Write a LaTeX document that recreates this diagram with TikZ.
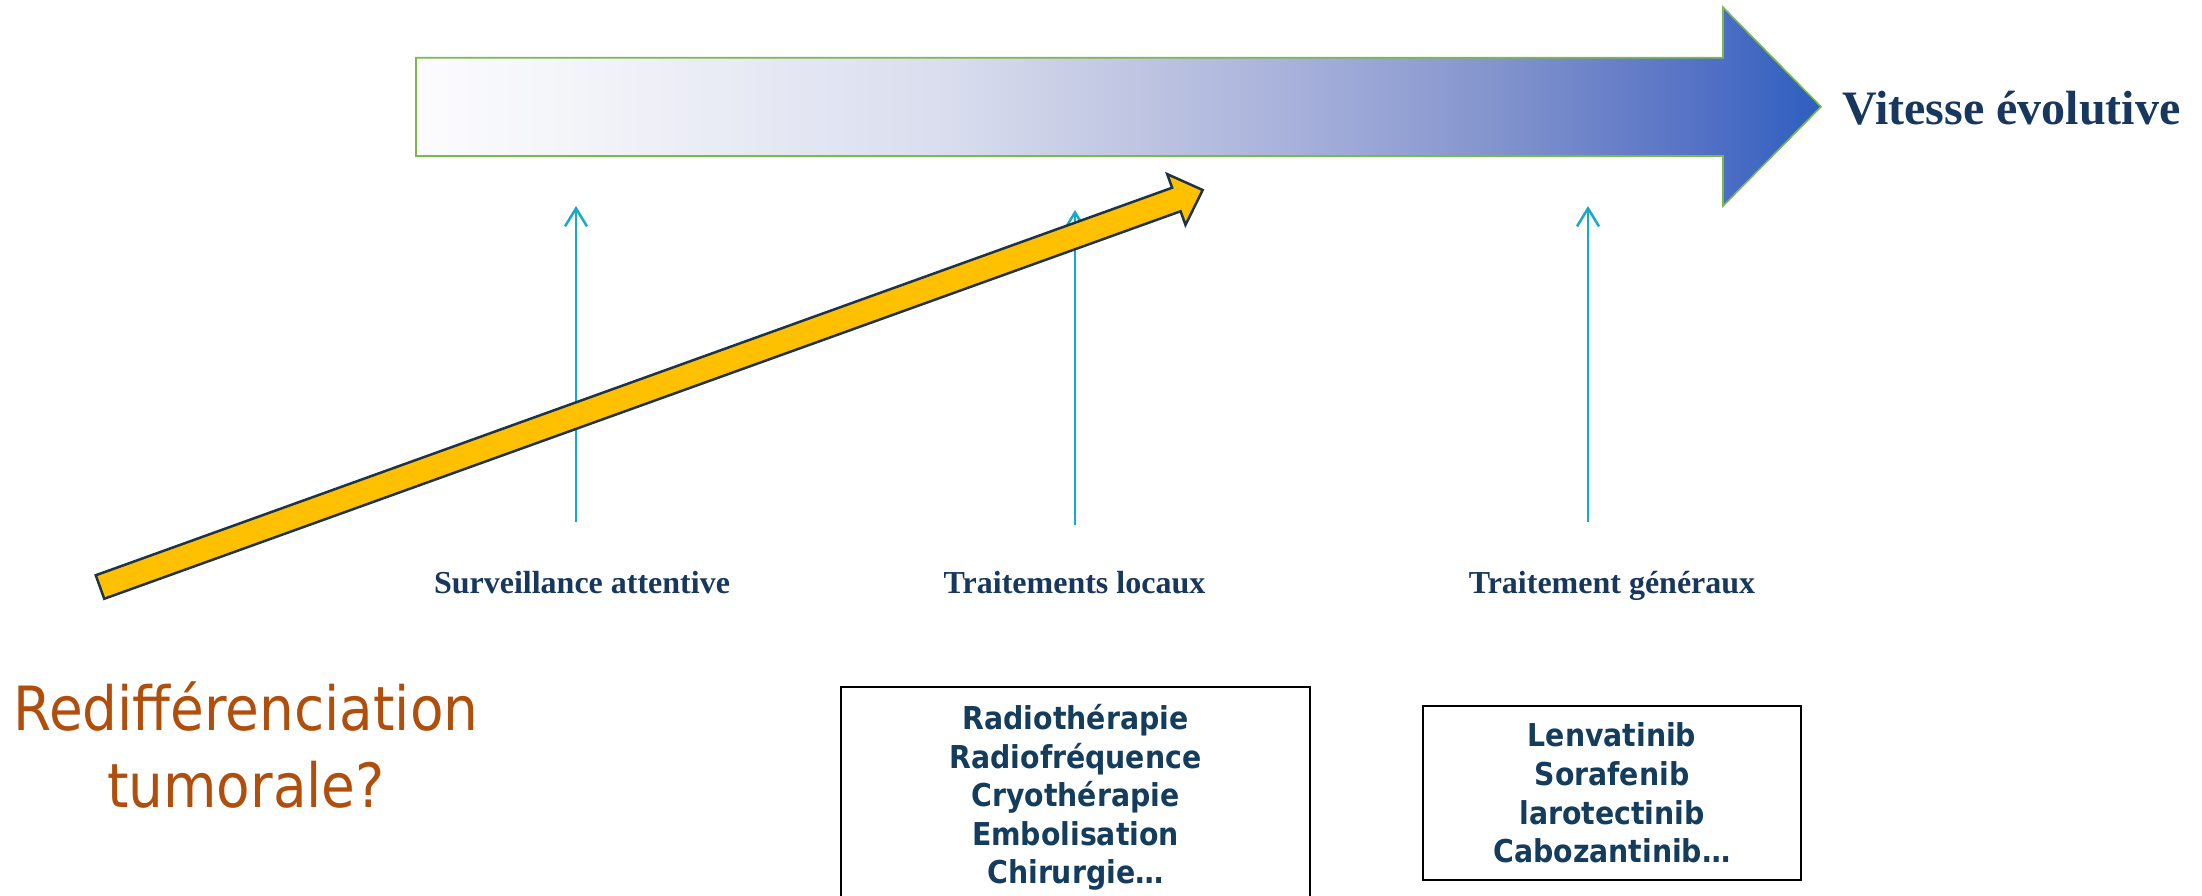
\documentclass[tikz,border=0pt]{standalone}
\usepackage{fontspec}
\setmainfont{Liberation Serif}
\newfontfamily\listfont{DejaVu Sans Condensed}
\newfontfamily\condfont{DejaVu Sans Condensed}
\usetikzlibrary{arrows.meta}

\definecolor{navy}{HTML}{17375E}
\definecolor{listnavy}{HTML}{143C5C}
\definecolor{rust}{HTML}{B04E0C}
\definecolor{teal}{HTML}{17A9C6}
\definecolor{gold}{HTML}{FFC000}
\definecolor{goldedge}{HTML}{1F3347}
\definecolor{leaf}{HTML}{7DB84A}

% speed gradient: the path's bounding box spans 25bp..75bp
\definecolor{sp0}{HTML}{FCFCFE}
\definecolor{sp1}{HTML}{F3F4F9}
\definecolor{sp2}{HTML}{D9DDEE}
\definecolor{sp3}{HTML}{C0C6E2}
\definecolor{sp4}{HTML}{A4AEDA}
\definecolor{sp5}{HTML}{8394CD}
\definecolor{sp6}{HTML}{5A75C6}
\definecolor{sp7}{HTML}{2E5EC0}
\pgfdeclarehorizontalshading{speed}{100bp}{%
  color(0bp)=(sp0); color(25bp)=(sp0); color(30.9bp)=(sp1);
  color(43.9bp)=(sp2); color(50.4bp)=(sp3); color(56.9bp)=(sp4);
  color(63.35bp)=(sp5); color(69.9bp)=(sp6); color(75bp)=(sp7);
  color(100bp)=(sp7)}

\tikzset{
  stagelabel/.style={font=\bfseries\fontsize{32}{38}\selectfont, text=navy, inner sep=0pt, anchor=base},
  listbox/.style={draw=black, line width=2pt, align=center, inner sep=0pt,
    text=listnavy, font=\listfont\bfseries\fontsize{31.5}{38.6}\selectfont},
  uparrow/.style={draw=teal, line width=2.5pt, -{Straight Barb[length=18pt,width=22pt,line width=2.5pt]}},
}

\begin{document}
\begin{tikzpicture}[x=1pt,y=-1pt]
\useasboundingbox (0,0) rectangle (2202,895);

% broad arrow: speed of progression
\path[draw=leaf, line width=1.6pt, shading=speed]
  (416,57.7) -- (1723,57.7) -- (1723,7.3) -- (1821,106.7)
  -- (1723,206) -- (1723,156) -- (416,156) -- cycle;
\node[font=\bfseries\fontsize{48}{56}\selectfont, text=navy, inner sep=0pt, anchor=base west]
  (vitesse) at (1842,124) {Vitesse évolutive};

% stage labels
\node[stagelabel] (surv) at (582,593) {Surveillance attentive};
\node[stagelabel] (locaux) at (1074.5,593) {Traitements locaux};
\node[stagelabel] (generaux) at (1612,593) {Traitement généraux};

% upward arrows above the stage labels
\coordinate (survA) at (576,522);   \coordinate (survB) at (576,206);
\coordinate (locA) at (1075,525);   \coordinate (locB) at (1075,210);
\coordinate (genA) at (1588,522);   \coordinate (genB) at (1588,206);
\draw[uparrow] (survA) -- (survB);
\draw[uparrow] (locA) -- (locB);
\draw[uparrow] (genA) -- (genB);

% rising yellow arrow
\begin{scope}[shift={(100,587)}, rotate=19.8]
  \filldraw[fill=gold, draw=goldedge, line width=2.5pt, line join=miter]
    (0,-12.5) -- (1144,-12.5) -- (1144,-27) -- (1172,0)
    -- (1144,27) -- (1144,12.5) -- (0,12.5) -- cycle;
\end{scope}

% question on the left
\node[font=\condfont\fontsize{61}{77}\selectfont, text=rust, align=center, inner sep=0pt]
  (redif) at (246,745) {Redifférenciation\\tumorale?};

% treatment lists
\node[listbox, minimum width=469pt, minimum height=221pt] (locbox) at (1075.5,797.5)
  {Radiothérapie\\Radiofréquence\\Cryothérapie\\Embolisation\\Chirurgie…};
\node[listbox, minimum width=378pt, minimum height=174pt] (genbox) at (1612,793)
  {Lenvatinib\\Sorafenib\\larotectinib\\Cabozantinib…};
\end{tikzpicture}
\end{document}
